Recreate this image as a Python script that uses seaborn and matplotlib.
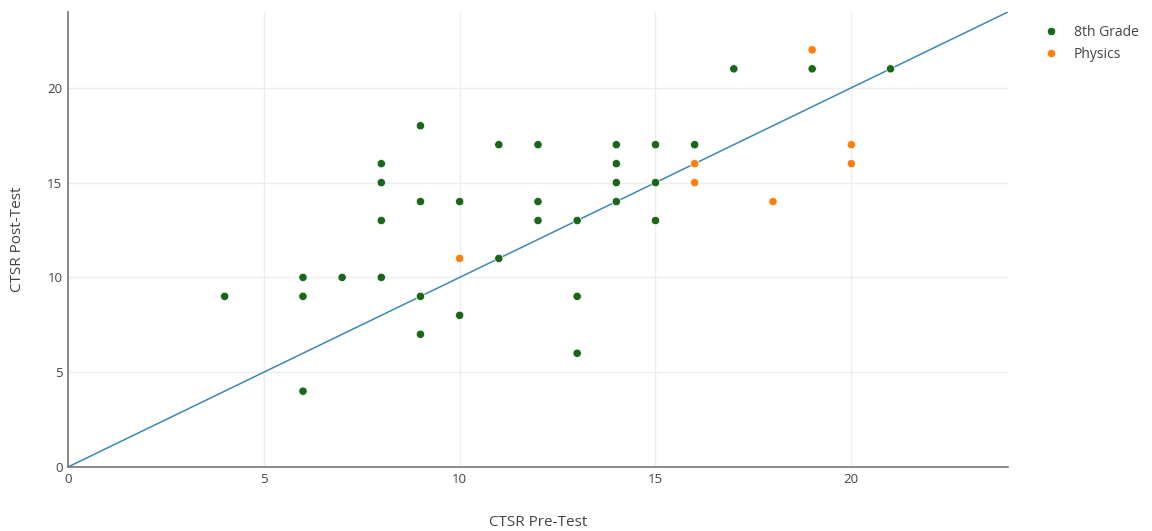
import matplotlib.pyplot as plt
import seaborn as sns
import pandas as pd

# ── Data ─────────────────────────────────────────────────────────────────────
grade8_pre  = [4, 6, 6, 6, 7, 8, 8, 8, 8, 9, 9, 9, 9, 10, 10, 11, 11, 12, 12, 12,
               13, 13, 13, 14, 14, 14, 14, 15, 15, 15, 16, 17, 19, 21]
grade8_post = [9, 10, 9, 4, 10, 16, 15, 13, 10, 18, 14, 9, 7, 14, 8, 17, 11, 17, 14, 13,
               13, 9, 6, 17, 16, 15, 14, 17, 15, 13, 17, 21, 21, 21]

physics_pre  = [10, 16, 16, 18, 19, 20, 20]
physics_post = [11, 16, 15, 14, 22, 17, 16]

groups = ["8th Grade", "Physics"]
line_x = [0, 24]
line_y = [0, 24]

df = pd.DataFrame({
    "pre":  grade8_pre + physics_pre,
    "post": grade8_post + physics_post,
    "group": [groups[0]] * len(grade8_pre) + [groups[1]] * len(physics_pre),
})

# ── Style ────────────────────────────────────────────────────────────────────
sns.set_style("white")
plt.rcParams["font.family"] = ["Open Sans", "DejaVu Sans"]
TXT = "#444444"
GRID = "#eeeeee"
PALETTE = {"8th Grade": "#1a661a", "Physics": "#ff7f0e"}

fig = plt.figure(figsize=(11.52, 5.31), dpi=100)
ax = fig.add_axes([0.059, 0.1205, 0.816, 0.857])

ax.plot(line_x, line_y, color="#3b88b8", linewidth=1.1, zorder=2)

sns.scatterplot(
    data=df, x="pre", y="post", hue="group", palette=PALETTE,
    s=36, edgecolor="white", linewidth=0.5, ax=ax, zorder=3, legend=True,
)

ax.set_xlim(0, 24)
ax.set_ylim(0, 24)
ax.set_xticks([0, 5, 10, 15, 20])
ax.set_yticks([0, 5, 10, 15, 20])
ax.grid(True, color=GRID, linewidth=1, zorder=0)
ax.set_axisbelow(True)

for side in ["top", "right"]:
    ax.spines[side].set_visible(False)
for side in ["left", "bottom"]:
    ax.spines[side].set_color("#777777")
    ax.spines[side].set_linewidth(1.2)

ax.tick_params(axis="both", length=0, labelsize=9.5, labelcolor=TXT, pad=4)
ax.set_xlabel("CTSR Pre-Test", color=TXT, fontsize=11, labelpad=21)
ax.set_ylabel("CTSR Post-Test", color=TXT, fontsize=11, labelpad=16)

ax.legend(
    loc="upper left", bbox_to_anchor=(1.018, 0.998), frameon=False,
    fontsize=10, labelcolor=TXT, handletextpad=0.6, labelspacing=0.5,
    markerscale=1.0,
)

plt.savefig("out.png", dpi=100)
